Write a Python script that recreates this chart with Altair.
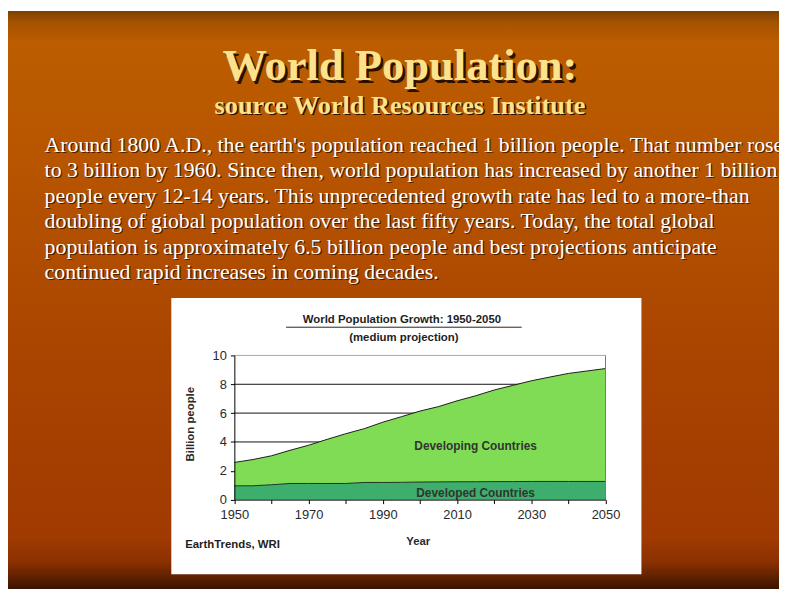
import altair as alt
import pandas as pd

# ---------------- data ----------------
years = [1950, 1955, 1960, 1965, 1970, 1975, 1980, 1985, 1990, 1995, 2000,
         2005, 2010, 2015, 2020, 2025, 2030, 2035, 2040, 2045, 2050]
total = [2.58, 2.78, 3.04, 3.42, 3.77, 4.18, 4.57, 4.92, 5.37, 5.75, 6.14,
         6.45, 6.85, 7.20, 7.60, 7.92, 8.24, 8.50, 8.75, 8.92, 9.09]
developed = [0.96, 0.96, 1.03, 1.12, 1.12, 1.12, 1.12, 1.19, 1.19, 1.20, 1.22,
             1.23, 1.24, 1.24, 1.25, 1.25, 1.26, 1.26, 1.26, 1.26, 1.26]
y_ticks = [0, 2, 4, 6, 8, 10]
x_ticks = [1950, 1960, 1970, 1980, 1990, 2000, 2010, 2020, 2030, 2040, 2050]
grid_values = [2, 4, 6, 8]

slide_title = "World Population:"
slide_subtitle = "source World Resources Institute"
paragraph = [
    "Around 1800 A.D., the earth's population reached 1 billion people. That number rose",
    "to 3 billion by 1960. Since then, world population has increased by another 1 billion",
    "people every 12-14 years. This unprecedented growth rate has led to a more-than",
    "doubling of giobal population over the last fifty years. Today, the total global",
    "population is approximately 6.5 billion people and best projections anticipate",
    "continued rapid increases in coming decades.",
]
chart_title = "World Population Growth: 1950-2050"
chart_subtitle = "(medium projection)"
source_note = "EarthTrends, WRI"
series_labels = ["Developing Countries", "Developed Countries"]
label_pos_year = [2015, 2015]
label_pos_value = [3.7, 0.45]

# ---------------- layout ----------------
W, H = 779, 584
X0, X1 = 228.7, 603.7      # pixel range of 1950..2050
Y0, Y10 = 493.7, 348.0     # pixel range of 0..10
SANS = "Liberation Sans"
SERIF = "Liberation Serif"

df = pd.DataFrame({"year": years, "total": total, "developed": developed})
one = pd.DataFrame({"a": [0]})

xscale = alt.Scale(domain=[1950, 2050], range=[X0, X1], nice=False, zero=False)
yscale = alt.Scale(domain=[0, 10], range=[Y0, Y10], nice=False, zero=True)

xaxis = alt.Axis(
    title="Year", values=x_ticks, format="d",
    labelExpr="(datum.value - 1950) % 20 == 0 ? datum.label : ''",
    offset=-(H - Y0), grid=False, zindex=1,
    domainColor="black", tickColor="black", tickSize=4,
    labelFont=SANS, labelFontSize=13, labelColor="#2a2a2a", labelPadding=5,
    labelFlush=False, labelOverlap=False,
    titleFont=SANS, titleFontSize=11.5, titleFontWeight="bold", titleColor="#2a2a2a",
    titleX=414, titleY=42, titleAlign="center", titleBaseline="middle",
)
yaxis = alt.Axis(
    title="Billion people", values=y_ticks,
    offset=-X0, grid=False, zindex=1,
    domainColor="black", tickColor="black", tickSize=4,
    labelFont=SANS, labelFontSize=13, labelColor="#2a2a2a", labelPadding=4,
    labelFlush=False, labelOverlap=False,
    titleFont=SANS, titleFontSize=11.5, titleFontWeight="bold", titleColor="#2a2a2a",
    titleX=-44, titleY=417, titleAngle=270, titleAlign="center", titleBaseline="middle",
)


def X(field):
    return alt.X(field, type="quantitative", scale=xscale, axis=xaxis)


def Y(field):
    return alt.Y(field, type="quantitative", scale=yscale, axis=yaxis)


# ---------------- slide background ----------------
gradient = alt.LinearGradient(
    gradient="linear", x1=0, x2=0, y1=0, y2=1,
    stops=[
        alt.GradientStop(color="#7C4000", offset=0.0),
        alt.GradientStop(color="#A55300", offset=0.02),
        alt.GradientStop(color="#BC5D00", offset=0.055),
        alt.GradientStop(color="#B85600", offset=0.24),
        alt.GradientStop(color="#AA4500", offset=0.585),
        alt.GradientStop(color="#A03A00", offset=0.91),
        alt.GradientStop(color="#8A3000", offset=0.954),
        alt.GradientStop(color="#5E2000", offset=0.98),
        alt.GradientStop(color="#3A1200", offset=1.0),
    ],
)
bg = alt.Chart(one).mark_rect(fill=gradient).encode(
    x=alt.value(0), x2=alt.value(W), y=alt.value(0), y2=alt.value(H)
)


def slide_text(text, x, y, size, weight, fill, align="center", line_height=None):
    kw = dict(font=SERIF, fontSize=size, fontWeight=weight, fill=fill,
              align=align, baseline="alphabetic")
    if line_height:
        kw["lineHeight"] = line_height
    return alt.Chart(one).mark_text(**kw).encode(
        x=alt.value(x), y=alt.value(y), text=alt.value(text)
    )


title_shadow = slide_text(slide_title, 398.5, 72.5, 45, "bold", "#2a1000")
title_main = slide_text(slide_title, 396, 70, 45, "bold", "#FBE28C")
sub_shadow = slide_text(slide_subtitle, 397.5, 105.5, 26.5, "bold", "#2a1000")
sub_main = slide_text(slide_subtitle, 396, 104, 26.5, "bold", "#FBE28C")
para_shadow = slide_text(paragraph, 38.2, 143.2, 22, "normal", "#4a1c00", align="left", line_height=25.8)
para_main = slide_text(paragraph, 37, 142, 22, "normal", "#FFFFFF", align="left", line_height=25.8)

# ---------------- chart box ----------------
box = alt.Chart(one).mark_rect(fill="white").encode(
    x=alt.value(165), x2=alt.value(640), y=alt.value(290), y2=alt.value(569)
)

grid_df = pd.DataFrame({"g": grid_values, "x0": 1950, "x1": 2050})
grid = alt.Chart(grid_df).mark_rule(color="#111111", strokeWidth=1).encode(
    x=X("x0"), x2="x1", y=Y("g")
)

frame_df = pd.DataFrame({"x0": [1950], "x1": [2050], "top": [10], "bottom": [0]})
top_rule = alt.Chart(frame_df).mark_rule(color="#a8a8a8", strokeWidth=1).encode(
    x=X("x0"), x2="x1", y=Y("top")
)
right_rule = alt.Chart(frame_df).mark_rule(color="#777777", strokeWidth=1).encode(
    x=X("x1"), y=Y("top"), y2="bottom"
)

developing_area = alt.Chart(df).mark_area(
    color="#80DC54", opacity=1, line={"color": "#1c1c1c", "strokeWidth": 1}
).encode(x=X("year"), y=Y("total"), y2="developed")

developed_area = alt.Chart(df).mark_area(
    color="#3DAE6B", opacity=1, line={"color": "#1c3322", "strokeWidth": 1}
).encode(x=X("year"), y=Y("developed"))

lab_df = pd.DataFrame({"year": label_pos_year, "value": label_pos_value, "label": series_labels})
series_text = alt.Chart(lab_df).mark_text(
    font=SANS, fontSize=12, fontWeight="bold", color="#333333",
    align="center", baseline="middle"
).encode(x=X("year"), y=Y("value"), text="label")


def chart_text(text, x, y, align="center"):
    return alt.Chart(one).mark_text(
        font=SANS, fontSize=11.5, fontWeight="bold", color="#1e1e1e",
        align=align, baseline="middle"
    ).encode(x=alt.value(x), y=alt.value(y), text=alt.value(text))


ctitle = chart_text(chart_title, 398, 312)
underline = alt.Chart(one).mark_rule(color="#222222", strokeWidth=1).encode(
    x=alt.value(281), x2=alt.value(519), y=alt.value(319.5)
)
csub = chart_text(chart_subtitle, 400, 330)
csource = chart_text(source_note, 179, 540, align="left")

chart = alt.layer(
    bg, title_shadow, title_main, sub_shadow, sub_main, para_shadow, para_main,
    box, grid, top_rule, developing_area, developed_area, right_rule,
    series_text, ctitle, underline, csub, csource,
).properties(
    width=W, height=H, padding=0,
    autosize=alt.AutoSizeParams(type="none"),
).configure_view(strokeWidth=0)

chart.save("out.html", embed_options={"renderer": "svg", "actions": False})
